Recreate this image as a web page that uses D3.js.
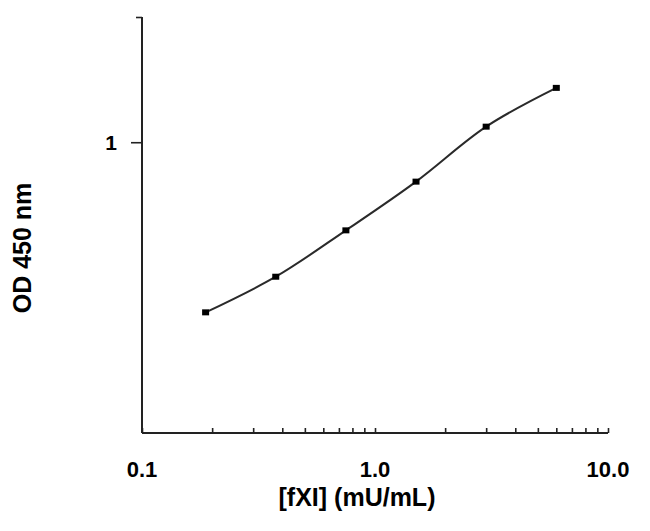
<!DOCTYPE html>
<html><head><meta charset="utf-8">
<script src="https://cdn.jsdelivr.net/npm/d3@7"></script>
<style>body{margin:0;background:#fff}svg{display:block}text{font-family:"Liberation Sans",Arial,sans-serif;font-weight:bold;fill:#000}</style>
</head><body><svg id="c" width="650" height="531"></svg>
<script>
const concentrations = [0.1875, 0.375, 0.75, 1.5, 3, 6];
const odValues = [0.390, 0.475, 0.614, 0.804, 1.090, 1.351];
const xTickLabels = [[0.1, "0.1"], [1, "1.0"], [10, "10.0"]];
const yTickLabels = [[1, "1"]];
const xTitle = "[fXI] (mU/mL)";
const yTitle = "OD 450 nm";

const svg = d3.select("#c");
const x = d3.scaleLog().domain([0.1, 10]).range([142, 608]);
const y = d3.scaleLog().domain([0.2, 2]).range([433, 17]);

// x axis with minor ticks
const minor = [];
for (let d = 0.1; d < 10; d *= 10) for (let k = 1; k <= 10; k++) minor.push(+(d * k).toPrecision(3));
const uniq = Array.from(new Set(minor));
const xAxis = d3.axisBottom(x).tickValues(uniq).tickSize(-5).tickFormat("");
const gx = svg.append("g").attr("transform", `translate(0,${y(0.2)})`).call(xAxis);
gx.select(".domain").attr("d", `M${x(0.1)},0H${x(10)}`).attr("stroke", "#222").attr("stroke-width", 2);
gx.selectAll(".tick line").attr("stroke", "#222").attr("stroke-width", 1.6);

gx.selectAll(".tl").data(xTickLabels).enter().append("text")
  .attr("x", d => x(d[0])).attr("y", 36).attr("dy", "0.35em").attr("text-anchor", "middle")
  .style("font-size", "22px").text(d => d[1]);

// y axis
const gy = svg.append("g").attr("transform", `translate(${x(0.1)},0)`)
  .call(d3.axisLeft(y).tickValues([1, 2]).tickSize(11).tickFormat(""));
gy.select(".domain").attr("d", `M0,${y(2)}V${y(0.2)}`).attr("stroke", "#222").attr("stroke-width", 2);
gy.selectAll(".tick line").attr("stroke", "#222").attr("stroke-width", 1.6)
  .attr("x2", d => d === 2 ? -6 : -11);
gy.selectAll(".yl").data(yTickLabels).enter().append("text")
  .attr("x", -25).attr("y", d => y(d[0])).attr("dy", "0.35em").attr("text-anchor", "end")
  .style("font-size", "21px").text(d => d[1]);

svg.append("text").attr("x", 357).attr("y", 497).attr("dy", "0.35em").attr("text-anchor", "middle")
  .style("font-size", "25px").text(xTitle);
svg.append("text").attr("transform", "translate(22,248) rotate(-90)").attr("dy", "0.35em").attr("text-anchor", "middle")
  .style("font-size", "25px").text(yTitle);

const data = concentrations.map((c, i) => [c, odValues[i]]);
const line = d3.line().x(d => x(d[0])).y(d => y(d[1])).curve(d3.curveCatmullRom.alpha(0.5));
svg.append("path").datum(data).attr("d", line).attr("fill", "none").attr("stroke", "#2a2a2a").attr("stroke-width", 2);
svg.selectAll(".pt").data(data).enter().append("rect")
  .attr("x", d => x(d[0]) - 3.5).attr("y", d => y(d[1]) - 3).attr("width", 7).attr("height", 6).attr("fill", "#000");
</script></body></html>
